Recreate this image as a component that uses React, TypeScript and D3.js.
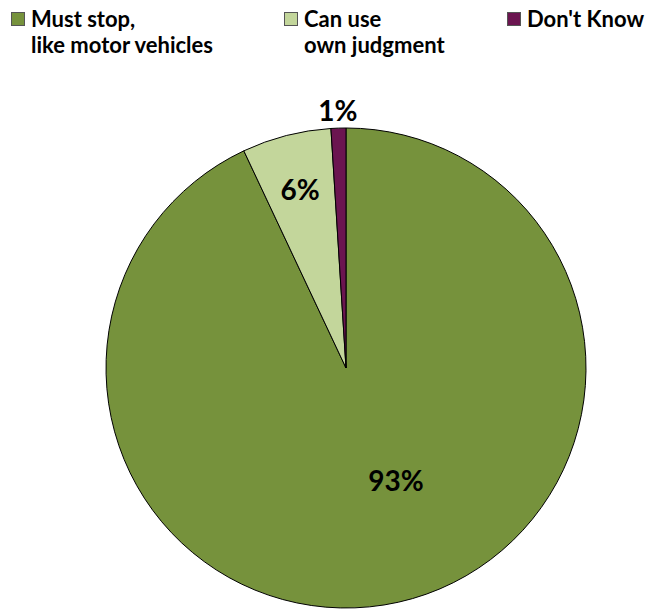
import React from "react";
import * as d3 from "d3";

const categories = ["Must stop,|like motor vehicles", "Can use|own judgment", "Don't Know"];
const values = [93, 6, 1];
const valueLabels = ["93%", "6%", "1%"];
const colors = ["#76923C", "#C3D69B", "#6B1550"];

const W = 647;
const H = 609;
const cx = 346;
const cy = 368;
const R = 240;
const FONT = "Lato, 'Open Sans', sans-serif";

// label placement style: radius fraction and angle shift (radians) per slice
const labelRadius = [0.51, 0.77, 1.075];
const labelShift = [-0.2, 0, 0];

const legendX = [11, 284, 507];

export default function App() {
  const pie = d3.pie<number>().sort(null).value((d) => d)(values);
  const arc = d3.arc<d3.PieArcDatum<number>>().innerRadius(0).outerRadius(R);
  return (
    <svg width={W} height={H} style={{ position: "absolute", left: 0, top: 0 }}>
      <rect width={W} height={H} fill="#fff" />
      <g transform={`translate(${cx},${cy})`}>
        {pie.map((p, i) => (
          <path key={i} d={arc(p) || ""} fill={colors[i]} stroke="#000" strokeWidth={1} />
        ))}
        {pie.map((p, i) => {
          const a = (p.startAngle + p.endAngle) / 2 + labelShift[i];
          const r = R * labelRadius[i];
          return (
            <text
              key={i}
              x={Math.sin(a) * r}
              y={-Math.cos(a) * r}
              textAnchor="middle"
              dominantBaseline="central"
              fontFamily={FONT}
              fontWeight="bold"
              fontSize={28}
              fill="#000"
            >
              {valueLabels[i]}
            </text>
          );
        })}
      </g>
      {categories.map((c, i) => (
        <g key={i} transform={`translate(${legendX[i]},0)`}>
          <rect x={0.5} y={12.5} width={13} height={13} fill={colors[i]} stroke="#555" strokeWidth={1} />
          {c.split("|").map((line, j) => (
            <text
              key={j}
              x={20}
              y={27 + j * 26}
              fontFamily={FONT}
              fontWeight="bold"
              fontSize={22}
              fill="#000"
            >
              {line}
            </text>
          ))}
        </g>
      ))}
    </svg>
  );
}
